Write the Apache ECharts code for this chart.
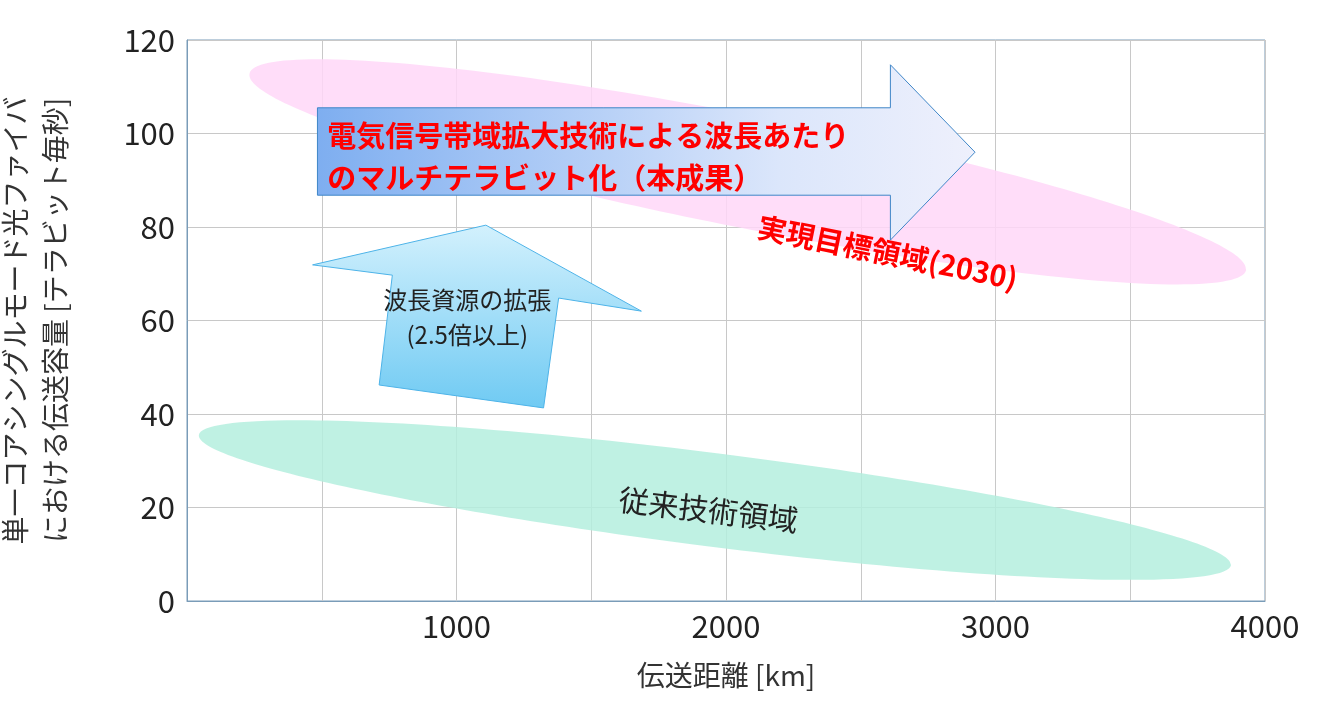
<!DOCTYPE html>
<html>
<head>
<meta charset="utf-8">
<script src="https://cdn.jsdelivr.net/npm/echarts@6/dist/echarts.min.js"></script>
<style>
html,body{margin:0;padding:0;background:#fff;}
#chart{width:1321px;height:724px;}
</style>
</head>
<body>
<div id="chart"></div>
<script>
// axis ticks
var xTicks = [0, 500, 1000, 1500, 2000, 2500, 3000, 3500, 4000];
var yTicks = [0, 20, 40, 60, 80, 100, 120];

// ellipses: [centerX, centerY, endX, endY, halfMinor(y units)]
var targetRegion = [2081, 91.8, 3930, 70.8, 12];
var legacyRegion = [1959, 21.6, 3874, 7.7, 10];

// big arrow outline (data units)
var bigArrow = [[484, 105.5], [2610, 105.5], [2610, 114.7], [2924, 96], [2610, 77.2], [2610, 86.8], [484, 86.8]];
// tilted arrow outline
var smallArrow = [[1109, 80.4], [1686, 62.0], [1379, 64.8], [1323, 41.3], [713, 46.2], [762, 69.7], [466, 71.9]];

// labels: [x, y, text]
var bigArrowText = [[520, 99.5, '電気信号帯域拡大技術による波長あたり'], [520, 90.5, 'のマルチテラビット化（本成果）']];
var smallArrowText = [[1040, 64.5, '波長資源の拡張'], [1040, 57, '(2.5倍以上)']];
var targetText = [2600, 74.5, '実現目標領域(2030)'];
var legacyText = [1935, 19.5, '従来技術領域'];

var FONT = '"Noto Sans CJK JP", "Noto Sans", sans-serif';

var chart = echarts.init(document.getElementById('chart'));

function ellipseItem(e, color, api) {
    var c = api.coord([e[0], e[1]]);
    var p = api.coord([e[2], e[3]]);
    var dx = p[0] - c[0], dy = p[1] - c[1];
    var a = Math.sqrt(dx * dx + dy * dy);
    var b = api.size([0, e[4]])[1];
    return {
        type: 'ellipse', x: c[0], y: c[1], rotation: -Math.atan2(dy, dx),
        shape: {cx: 0, cy: 0, rx: a, ry: b},
        style: {fill: color}
    };
}

function textItem(t, api, style, rot) {
    var p = api.coord([t[0], t[1]]);
    return {
        type: 'text', x: p[0], y: p[1], rotation: rot || 0,
        style: echarts.util.extend({text: t[2], fontFamily: FONT, verticalAlign: 'middle'}, style)
    };
}

function renderShapes(params, api) {
    var big = bigArrow.map(function (d) { return api.coord(d); });
    var small = smallArrow.map(function (d) { return api.coord(d); });
    var children = [
        ellipseItem(targetRegion, 'rgba(255,215,248,0.85)', api),
        ellipseItem(legacyRegion, 'rgba(180,238,222,0.85)', api),
        {
            type: 'polygon', shape: {points: small},
            style: {
                fill: new echarts.graphic.LinearGradient(0, 0, 0, 1, [
                    {offset: 0, color: '#d3f1fd'}, {offset: 1, color: '#6fcaf3'}]),
                stroke: '#4db3e8', lineWidth: 1
            }
        },
        {
            type: 'polygon', shape: {points: big},
            style: {
                fill: new echarts.graphic.LinearGradient(0, 0, 1, 0, [
                    {offset: 0, color: '#7eaef0'}, {offset: 0.7, color: '#dbe6fb'}, {offset: 1, color: '#eef0fc'}]),
                stroke: '#3f86c8', lineWidth: 1
            }
        }
    ];
    bigArrowText.forEach(function (t) {
        children.push(textItem(t, api, {fill: '#ff0000', fontSize: 29, fontWeight: 'bold', align: 'left'}));
    });
    smallArrowText.forEach(function (t) {
        children.push(textItem(t, api, {fill: '#222', fontSize: 24, align: 'center'}));
    });
    children.push(textItem(targetText, api, {fill: '#ff0000', fontSize: 29, fontWeight: 'bold', align: 'center'}, -0.2));
    children.push(textItem(legacyText, api, {fill: '#222', fontSize: 30, align: 'center'}, -0.12));
    return {type: 'group', children: children};
}

chart.setOption({
    animation: false,
    grid: {left: 187, right: 56, top: 40, bottom: 123, containLabel: false, outerBoundsMode: 'none',
        show: true, borderColor: '#7a9cb8', borderWidth: 1},
    xAxis: {
        type: 'value', min: xTicks[0], max: xTicks[xTicks.length - 1], interval: 500,
        name: '伝送距離 [km]', nameLocation: 'middle', nameGap: 60,
        nameTextStyle: {fontSize: 28, color: '#333', fontFamily: FONT},
        axisLine: {show: true, lineStyle: {color: '#7a9cb8'}},
        axisTick: {show: false},
        splitLine: {show: true, lineStyle: {color: '#c8c8c8'}},
        axisLabel: {
            fontSize: 31, color: '#222', fontFamily: FONT, margin: 10,
            formatter: function (v) { return (v > 0 && v % 1000 === 0) ? String(v) : ''; }
        }
    },
    yAxis: {
        type: 'value', min: yTicks[0], max: yTicks[yTicks.length - 1], interval: 20,
        name: '単一コアシングルモード光ファイバ\nにおける伝送容量 [テラビット毎秒]',
        nameLocation: 'middle', nameGap: 112, nameRotate: 90,
        nameTextStyle: {fontSize: 28, color: '#333', fontFamily: FONT, lineHeight: 40},
        axisLine: {show: true, lineStyle: {color: '#7a9cb8'}},
        axisTick: {show: false},
        splitLine: {show: true, lineStyle: {color: '#c8c8c8'}},
        axisLabel: {fontSize: 31, color: '#222', fontFamily: FONT, margin: 12}
    },
    series: [{
        type: 'custom',
        renderItem: renderShapes,
        data: [[0, 0]],
        clip: false,
        silent: true
    }]
});
</script>
</body>
</html>
